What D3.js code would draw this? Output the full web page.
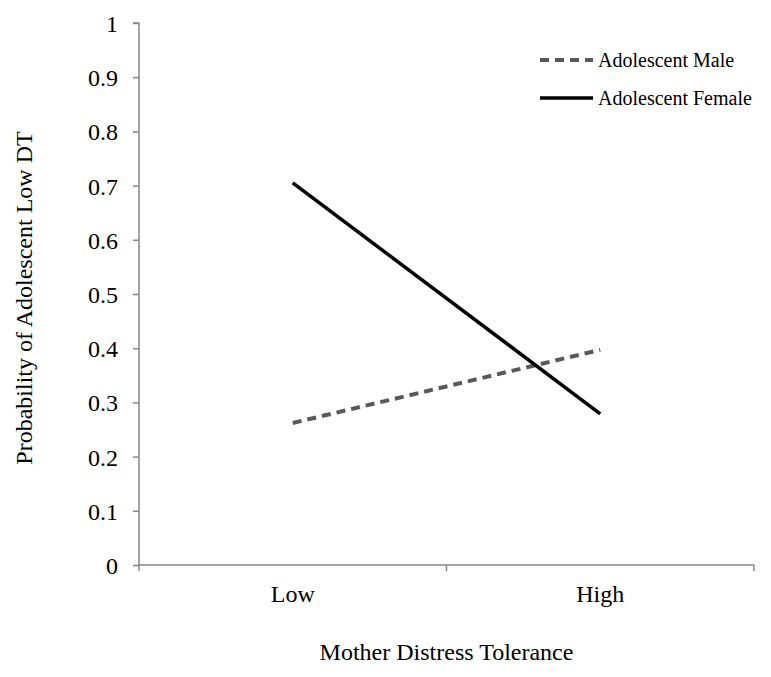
<!DOCTYPE html>
<html>
<head>
<meta charset="utf-8">
<script src="https://cdn.jsdelivr.net/npm/d3@7"></script>
<style>
  body { margin: 0; background: #fff; }
  svg text { font-family: "Liberation Serif", "Times New Roman", serif; fill: #000; }
</style>
</head>
<body>
<div id="chart"></div>
<script>
var categories = ["Low", "High"];
var maleValues = [0.262, 0.397];
var femaleValues = [0.705, 0.279];
var yTicks = [0, 0.1, 0.2, 0.3, 0.4, 0.5, 0.6, 0.7, 0.8, 0.9, 1];
var seriesNames = ["Adolescent Male", "Adolescent Female"];

var width = 771, height = 677;
var margin = {top: 23, right: 17, bottom: 112, left: 139};

var svg = d3.select("#chart").append("svg")
    .attr("width", width)
    .attr("height", height);

var x = d3.scaleBand()
    .domain(categories)
    .range([margin.left, width - margin.right]);

var y = d3.scaleLinear()
    .domain([0, 1])
    .range([height - margin.bottom, margin.top]);

var axisColor = "#868686";

// y axis
var yAxis = svg.append("g")
    .attr("transform", "translate(" + margin.left + ",0)")
    .call(d3.axisLeft(y).tickValues(yTicks).tickSize(6).tickPadding(15)
      .tickFormat(function(d) { return d === 0 || d === 1 ? d : d3.format(".1f")(d); }));
yAxis.selectAll("path, line").attr("stroke", axisColor).attr("stroke-width", 1.5);
yAxis.select(".domain").attr("d", "M0," + y(0) + "V" + y(1) + "H-6");
yAxis.selectAll("text").style("font-size", "24px").attr("dy", "0.35em");

// x axis
var xAxis = svg.append("g")
    .attr("transform", "translate(0," + y(0) + ")")
    .call(d3.axisBottom(x).tickSize(0).tickPadding(20));
xAxis.select(".domain").attr("stroke", axisColor).attr("stroke-width", 1.5)
    .attr("d", "M" + x.range()[0] + ",0H" + x.range()[1]);
xAxis.selectAll(".tick line").remove();
xAxis.selectAll("text").style("font-size", "24px");

// band boundary ticks
var bounds = [x.range()[0]].concat(categories.map(function(c) { return x(c) + x.bandwidth(); }));
svg.append("g").selectAll("line")
    .data(bounds)
  .enter().append("line")
    .attr("x1", function(d) { return d; })
    .attr("x2", function(d) { return d; })
    .attr("y1", y(0))
    .attr("y2", y(0) + 6)
    .attr("stroke", axisColor)
    .attr("stroke-width", 1.5);

var line = d3.line()
    .x(function(d, i) { return x(categories[i]) + x.bandwidth() / 2; })
    .y(function(d) { return y(d); });

svg.append("path")
    .datum(maleValues)
    .attr("d", line)
    .attr("fill", "none")
    .attr("stroke", "#595959")
    .attr("stroke-width", 4)
    .attr("stroke-dasharray", "9,6");

svg.append("path")
    .datum(femaleValues)
    .attr("d", line)
    .attr("fill", "none")
    .attr("stroke", "#000")
    .attr("stroke-width", 3.5);

// legend
var legend = svg.append("g").attr("transform", "translate(540,60)");
var legendStyles = [
  {stroke: "#595959", width: 4, dash: "9,6"},
  {stroke: "#000", width: 3.5, dash: null}
];
seriesNames.forEach(function(name, i) {
  var g = legend.append("g").attr("transform", "translate(0," + (i * 38) + ")");
  g.append("line")
    .attr("x1", 0).attr("x2", 53)
    .attr("y1", 0).attr("y2", 0)
    .attr("stroke", legendStyles[i].stroke)
    .attr("stroke-width", legendStyles[i].width)
    .attr("stroke-dasharray", legendStyles[i].dash);
  g.append("text")
    .attr("x", 58)
    .attr("y", 0)
    .attr("dy", "0.35em")
    .style("font-size", "20px")
    .text(name);
});

// axis titles
svg.append("text")
    .attr("transform", "translate(32,298) rotate(-90)")
    .attr("text-anchor", "middle")
    .style("font-size", "24px")
    .text("Probability of Adolescent Low DT");

svg.append("text")
    .attr("x", (x.range()[0] + x.range()[1]) / 2)
    .attr("y", 660)
    .attr("text-anchor", "middle")
    .style("font-size", "24px")
    .text("Mother Distress Tolerance");
</script>
</body>
</html>
